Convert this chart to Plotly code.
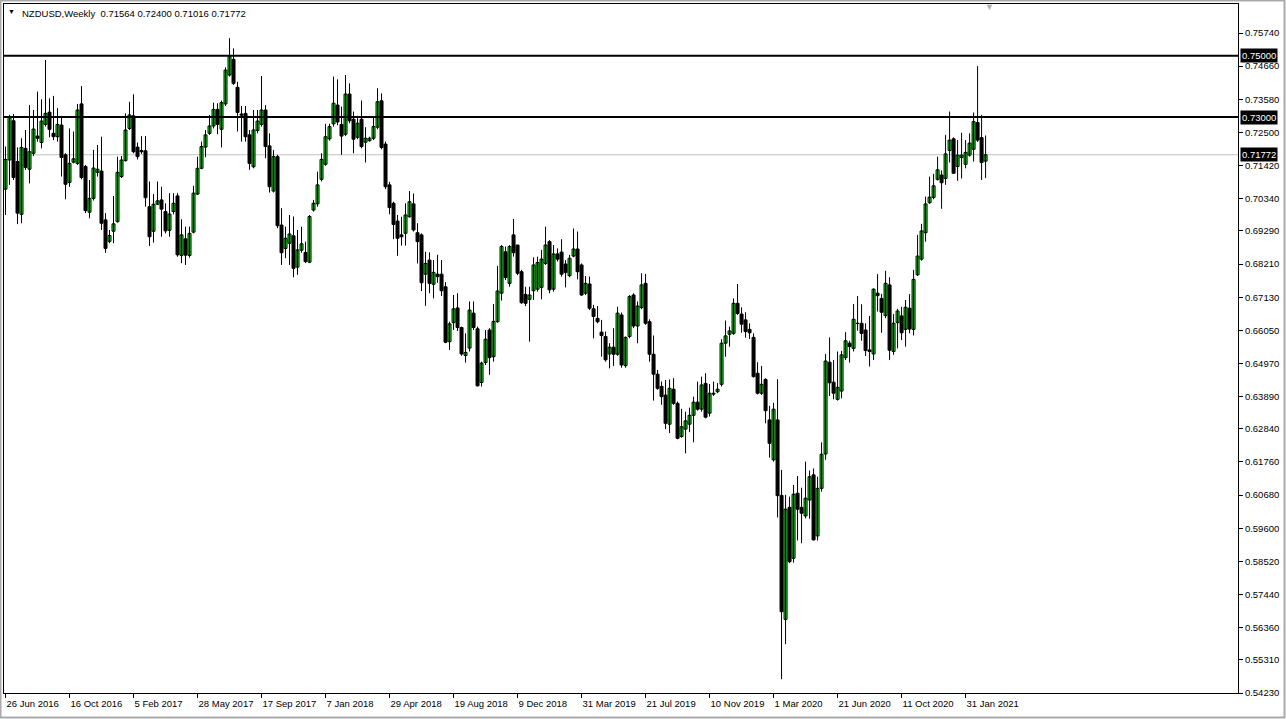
import pandas as pd
import plotly.graph_objects as go

# ---------------- data ----------------
start_week = "2016-06-26"

opens = [0.7065,0.7160,0.7288,0.7155,0.6983,0.7198,0.7130,0.7182,0.7238,0.7217,
0.7276,0.7316,0.7247,0.7236,0.7274,0.7177,0.7087,0.7153,0.7149,0.7343,
0.7139,0.6990,0.7035,0.7120,0.7124,0.6965,0.6895,0.6928,0.6959,0.7106,
0.7158,0.7263,0.7304,0.7202,0.7191,0.7190,0.7008,0.6928,0.7016,0.7030,
0.6992,0.6931,0.6992,0.7043,0.6849,0.6903,0.6849,0.6925,0.7049,0.7133,
0.7202,0.7247,0.7271,0.7325,0.7260,0.7343,0.7437,0.7488,0.7397,0.7310,
0.7312,0.7242,0.7138,0.7256,0.7276,0.7323,0.7206,0.7059,0.7171,0.6948,
0.6872,0.6889,0.6913,0.6811,0.6866,0.6859,0.6827,0.6997,0.7017,0.7097,
0.7146,0.7229,0.7278,0.7339,0.7276,0.7244,0.7375,0.7293,0.7234,0.7293,
0.7218,0.7223,0.7231,0.7267,0.7353,0.7212,0.7079,0.7019,0.6961,0.6916,
0.6921,0.6975,0.7017,0.6923,0.6916,0.6788,0.6834,0.6755,0.6788,0.6788,
0.6747,0.6568,0.6630,0.6678,0.6614,0.6523,0.6547,0.6661,0.6610,0.6435,
0.6500,0.6606,0.6519,0.6633,0.6726,0.6861,0.6758,0.6916,0.6883,0.6796,
0.6722,0.6706,0.6734,0.6739,0.6745,0.6823,0.6894,0.6739,0.6854,0.6860,
0.6821,0.6783,0.6847,0.6870,0.6818,0.6726,0.6756,0.6675,0.6644,0.6599,
0.6585,0.6528,0.6550,0.6527,0.6655,0.6490,0.6585,0.6720,0.6619,0.6679,
0.6758,0.6633,0.6527,0.6462,0.6422,0.6394,0.6299,0.6413,0.6367,0.6259,
0.6283,0.6299,0.6328,0.6371,0.6348,0.6432,0.6335,0.6400,0.6405,0.6429,
0.6563,0.6592,0.6595,0.6693,0.6658,0.6639,0.6608,0.6582,0.6465,0.6400,
0.6445,0.6313,0.6183,0.6313,0.6067,0.5663,0.6028,0.5862,0.6074,0.6028,
0.6000,0.6052,0.6134,0.5935,0.6090,0.6202,0.6501,0.6436,0.6380,0.6407,
0.6516,0.6563,0.6546,0.6628,0.6628,0.6606,0.6541,0.6528,0.6726,0.6709,
0.6653,0.6753,0.6536,0.6630,0.6652,0.6608,0.6677,0.6608,0.6786,0.6837,
0.6923,0.7021,0.7038,0.7097,0.7111,0.7100,0.7191,0.7229,0.7139,0.7168,
0.7146,0.7176,0.7195,0.7282,0.7233,0.71564]

highs = [0.7204,0.7307,0.7310,0.7201,0.7231,0.7258,0.7339,0.7323,0.7383,0.7358,
0.7486,0.7361,0.7369,0.7329,0.7304,0.7182,0.7263,0.7253,0.7343,0.7401,
0.7144,0.7095,0.7193,0.7209,0.7236,0.6987,0.6932,0.7043,0.7171,0.7173,
0.7312,0.7350,0.7374,0.7217,0.7238,0.7238,0.7090,0.7049,0.7090,0.7073,
0.7019,0.7052,0.7052,0.7052,0.6967,0.6943,0.6943,0.7076,0.7171,0.7220,
0.7258,0.7307,0.7347,0.7345,0.7354,0.7462,0.7557,0.7524,0.7415,0.7336,
0.7336,0.7258,0.7323,0.7323,0.7434,0.7339,0.7247,0.7193,0.7177,0.7003,
0.6943,0.6981,0.6976,0.6932,0.6943,0.6894,0.6981,0.7030,0.7122,0.7182,
0.7278,0.7278,0.7432,0.7423,0.7334,0.7437,0.7410,0.7318,0.7304,0.7354,
0.7267,0.7236,0.7301,0.7394,0.7377,0.7220,0.7089,0.7024,0.6981,0.6975,
0.7019,0.7059,0.7051,0.6954,0.6921,0.6861,0.6859,0.6834,0.6851,0.6834,
0.6762,0.6633,0.6720,0.6726,0.6617,0.6595,0.6699,0.6699,0.6617,0.6503,
0.6606,0.6612,0.6691,0.6815,0.6883,0.6878,0.6883,0.6968,0.6883,0.6802,
0.6747,0.6747,0.6843,0.6845,0.6867,0.6943,0.6899,0.6883,0.6872,0.6902,
0.6834,0.6851,0.6937,0.6927,0.6823,0.6782,0.6780,0.6688,0.6684,0.6639,
0.6601,0.6563,0.6612,0.6682,0.6663,0.6585,0.6720,0.6726,0.6699,0.6791,
0.6789,0.6641,0.6588,0.6476,0.6438,0.6443,0.6445,0.6449,0.6373,0.6349,
0.6340,0.6353,0.6389,0.6438,0.6454,0.6465,0.6430,0.6438,0.6433,0.6576,
0.6637,0.6617,0.6709,0.6756,0.6680,0.6664,0.6628,0.6595,0.6501,0.6489,
0.6449,0.6359,0.6369,0.6446,0.6150,0.6069,0.6063,0.6101,0.6130,0.6092,
0.6177,0.6148,0.6155,0.6128,0.6240,0.6528,0.6582,0.6508,0.6536,0.6538,
0.6599,0.6571,0.6691,0.6717,0.6690,0.6628,0.6652,0.6742,0.6788,0.6724,
0.6799,0.6778,0.6658,0.6675,0.6682,0.6704,0.6723,0.6802,0.6916,0.6952,
0.7041,0.7106,0.7115,0.7171,0.7126,0.7242,0.7318,0.7234,0.7225,0.7249,
0.7225,0.7247,0.7315,0.7466,0.7307,0.72400]

lows = [0.6981,0.7079,0.7095,0.6951,0.6954,0.7128,0.7084,0.7173,0.7220,0.7198,
0.7269,0.7234,0.7225,0.7220,0.7106,0.7032,0.7073,0.7149,0.7144,0.7097,
0.6987,0.6970,0.7028,0.7106,0.6932,0.6858,0.6889,0.6889,0.6956,0.7101,
0.7155,0.7258,0.7182,0.7162,0.7180,0.7008,0.6880,0.6891,0.7014,0.6910,
0.6921,0.6910,0.6983,0.6845,0.6824,0.6818,0.6842,0.6921,0.7046,0.7130,
0.7169,0.7242,0.7263,0.7244,0.7201,0.7336,0.7432,0.7405,0.7253,0.7220,
0.7220,0.7128,0.7133,0.7247,0.7269,0.7166,0.7054,0.7054,0.6938,0.6818,
0.6840,0.6818,0.6778,0.6786,0.6858,0.6824,0.6824,0.6992,0.7008,0.7090,
0.7141,0.7223,0.7269,0.7274,0.7177,0.7238,0.7280,0.7182,0.7228,0.7198,
0.7152,0.7220,0.7225,0.7260,0.7195,0.7065,0.6983,0.6902,0.6848,0.6881,
0.6881,0.6972,0.6927,0.6823,0.6733,0.6685,0.6726,0.6709,0.6760,0.6717,
0.6563,0.6541,0.6606,0.6603,0.6522,0.6500,0.6536,0.6606,0.6422,0.6422,
0.6492,0.6460,0.6503,0.6630,0.6702,0.6769,0.6747,0.6845,0.6785,0.6691,
0.6684,0.6568,0.6704,0.6731,0.6706,0.6818,0.6726,0.6731,0.6829,0.6780,
0.6745,0.6778,0.6843,0.6771,0.6717,0.6720,0.6671,0.6579,0.6628,0.6519,
0.6503,0.6481,0.6489,0.6522,0.6483,0.6483,0.6579,0.6612,0.6563,0.6674,
0.6623,0.6503,0.6376,0.6411,0.6362,0.6283,0.6270,0.6362,0.6250,0.6255,
0.6204,0.6273,0.6240,0.6343,0.6340,0.6318,0.6324,0.6391,0.6400,0.6422,
0.6519,0.6552,0.6590,0.6655,0.6597,0.6581,0.6577,0.6451,0.6396,0.6394,
0.6302,0.6190,0.6177,0.5995,0.5468,0.5582,0.5846,0.5848,0.5920,0.5911,
0.5992,0.5991,0.5920,0.5920,0.6079,0.6183,0.6391,0.6380,0.6376,0.6383,
0.6508,0.6500,0.6536,0.6604,0.6571,0.6521,0.6487,0.6508,0.6666,0.6597,
0.6645,0.6508,0.6525,0.6546,0.6573,0.6552,0.6595,0.6588,0.6782,0.6832,
0.6894,0.7017,0.7032,0.7093,0.7001,0.7079,0.7152,0.7115,0.7092,0.7100,
0.7133,0.7171,0.7155,0.7219,0.7095,0.71016]

closes = [0.7162,0.7299,0.7103,0.6987,0.7201,0.7136,0.7187,0.7261,0.7231,0.7287,
0.7312,0.7260,0.7236,0.7276,0.7168,0.7081,0.7149,0.7164,0.7323,0.7103,
0.6995,0.7035,0.7134,0.7130,0.6954,0.6872,0.6914,0.6952,0.7120,0.7160,
0.7258,0.7307,0.7187,0.7171,0.7187,0.7037,0.6910,0.7016,0.7027,0.7000,
0.6929,0.6984,0.7019,0.6851,0.6916,0.6850,0.6921,0.7052,0.7133,0.7204,
0.7242,0.7271,0.7325,0.7276,0.7347,0.7453,0.7497,0.7410,0.7315,0.7306,
0.7236,0.7149,0.7258,0.7287,0.7323,0.7204,0.7073,0.7171,0.6946,0.6858,
0.6905,0.6919,0.6807,0.6867,0.6887,0.6829,0.6976,0.7019,0.7079,0.7162,
0.7236,0.7269,0.7345,0.7284,0.7238,0.7375,0.7288,0.7228,0.7280,0.7204,
0.7231,0.7231,0.7269,0.7350,0.7201,0.7073,0.7005,0.6950,0.6905,0.6910,
0.6981,0.7024,0.6932,0.6894,0.6760,0.6823,0.6758,0.6794,0.6780,0.6734,
0.6566,0.6626,0.6675,0.6614,0.6528,0.6533,0.6671,0.6614,0.6424,0.6498,
0.6576,0.6516,0.6634,0.6733,0.6878,0.6777,0.6878,0.6858,0.6791,0.6695,
0.6693,0.6720,0.6818,0.6826,0.6837,0.6883,0.6737,0.6854,0.6837,0.6788,
0.6793,0.6840,0.6870,0.6796,0.6720,0.6758,0.6677,0.6650,0.6633,0.6588,
0.6509,0.6550,0.6527,0.6661,0.6492,0.6582,0.6715,0.6619,0.6684,0.6753,
0.6628,0.6527,0.6462,0.6416,0.6389,0.6302,0.6416,0.6367,0.6253,0.6291,
0.6310,0.6328,0.6371,0.6348,0.6427,0.6322,0.6400,0.6397,0.6413,0.6563,
0.6587,0.6603,0.6693,0.6660,0.6625,0.6601,0.6597,0.6454,0.6400,0.6429,
0.6343,0.6237,0.6348,0.6066,0.5688,0.6022,0.5851,0.6071,0.6022,0.6009,
0.6058,0.6128,0.5922,0.6090,0.6201,0.6505,0.6434,0.6400,0.6419,0.6525,
0.6571,0.6552,0.6641,0.6627,0.6595,0.6539,0.6536,0.6739,0.6718,0.6664,
0.6758,0.6540,0.6628,0.6668,0.6597,0.6680,0.6609,0.6771,0.6847,0.6929,
0.7017,0.7039,0.7076,0.7128,0.7086,0.7180,0.7225,0.7117,0.7176,0.7176,
0.7185,0.7215,0.7285,0.7225,0.7152,0.71772]

date_labels = ["26 Jun 2016", "16 Oct 2016", "5 Feb 2017", "28 May 2017",
               "17 Sep 2017", "7 Jan 2018", "29 Apr 2018", "19 Aug 2018",
               "9 Dec 2018", "31 Mar 2019", "21 Jul 2019", "10 Nov 2019",
               "1 Mar 2020", "21 Jun 2020", "11 Oct 2020", "31 Jan 2021"]

price_ticks = [0.75740, 0.74660, 0.73580, 0.72500, 0.71420, 0.70340, 0.69290,
               0.68210, 0.67130, 0.66050, 0.64970, 0.63890, 0.62840, 0.61760,
               0.60680, 0.59600, 0.58520, 0.57440, 0.56360, 0.55310, 0.54230]

level_lines = [0.75000, 0.73000]
last_price = 0.71772
header = "NZDUSD,Weekly  0.71564 0.72400 0.71016 0.71772"

# ---------------- figure ----------------
W, H = 1286, 719
ML, MR, MT, MB = 4, 48, 4, 26
PW, PH = W - ML - MR, H - MT - MB

BULL = "#30ee30"
BEAR = "#000000"

dates = list(pd.date_range(start_week, periods=len(opens), freq="7D"))
t0 = pd.Timestamp(start_week)
wk = pd.Timedelta(days=7)
x_range = [t0 - 0.375 * wk, t0 + 308.1 * wk]
y_range = [0.5423, 0.76685]
tick_dates = [t0 + 16 * k * wk for k in range(len(date_labels))]
FONT = "Liberation Sans"

# wick path (x, low, high, gap) built from the arrays
wick_x, wick_y = [], []
for d, lo, hi in zip(dates, lows, highs):
    wick_x += [d, d, None]
    wick_y += [lo, hi, None]

body_base = [min(o, c) for o, c in zip(opens, closes)]
body_len = [max(abs(c - o), 0.00004) for o, c in zip(opens, closes)]
body_col = [BULL if c >= o else BEAR for o, c in zip(opens, closes)]

fig = go.Figure()
fig.add_trace(go.Scatter(
    x=wick_x, y=wick_y, mode="lines",
    line=dict(color="#000000", width=1), hoverinfo="skip", showlegend=False))
fig.add_trace(go.Bar(
    x=dates, y=body_len, base=body_base,
    width=0.75 * wk.total_seconds() * 1000,
    marker=dict(color=body_col, line=dict(color="#000000", width=1)),
    hoverinfo="skip", showlegend=False))


def px_x(px):
    return (px - ML) / PW


def px_y(py):
    return 1 - (py - MT) / PH


shapes = [dict(type="line", xref="paper", yref="y", x0=0, x1=1,
               y0=last_price, y1=last_price,
               line=dict(color="#c0c0c0", width=1), layer="below")]
for lv in level_lines:
    shapes.append(dict(type="line", xref="paper", yref="y", x0=0, x1=1,
                       y0=lv, y1=lv, line=dict(color="#000000", width=2),
                       layer="above"))
shapes.append(dict(type="rect", xref="paper", yref="paper",
                   x0=px_x(0.5), x1=px_x(1284.5), y0=px_y(717.5), y1=px_y(0.5),
                   line=dict(color="#a9a9a9", width=2), layer="below"))

annotations = []
for val in level_lines + [last_price]:
    annotations.append(dict(
        xref="paper", yref="y", x=1, y=val, xanchor="left", yanchor="middle",
        xshift=2, text=f"{val:.5f}", showarrow=False,
        font=dict(family=FONT, size=9.5, color="#ffffff"),
        bgcolor="#000000", borderpad=1))
annotations.append(dict(
    xref="paper", yref="paper", x=px_x(20), y=px_y(6), xanchor="left",
    yanchor="top", text=header, showarrow=False,
    font=dict(family=FONT, size=9.5, color="#000000")))
annotations.append(dict(
    xref="paper", yref="paper", x=px_x(11), y=px_y(12), xanchor="center",
    yanchor="middle", text="▼", showarrow=False,
    font=dict(family=FONT, size=7, color="#000000")))
annotations.append(dict(
    xref="paper", yref="paper", x=px_x(990), y=px_y(7), xanchor="center",
    yanchor="middle", text="▼", showarrow=False,
    font=dict(family=FONT, size=9, color="#b0b0b0")))

fig.update_layout(
    width=W, height=H,
    margin=dict(l=ML, r=MR, t=MT, b=MB, pad=0, autoexpand=False),
    paper_bgcolor="#ffffff", plot_bgcolor="#ffffff",
    shapes=shapes, annotations=annotations,
    bargap=0, barmode="overlay",
    xaxis=dict(
        type="date", range=x_range, automargin=False,
        showgrid=False, zeroline=False,
        showline=True, linecolor="#000000", linewidth=1, mirror=True,
        ticks="outside", ticklen=4, tickcolor="#000000",
        tickvals=tick_dates, ticktext=date_labels,
        ticklabelposition="outside right", ticklabelstandoff=2,
        tickfont=dict(family=FONT, size=9.5, color="#000000"),
    ),
    yaxis=dict(
        side="right", range=y_range, automargin=False,
        showgrid=False, zeroline=False,
        showline=True, linecolor="#000000", linewidth=1, mirror=True,
        ticks="outside", ticklen=4, tickcolor="#000000",
        tickvals=price_ticks, ticktext=[f"{v:.5f}" for v in price_ticks],
        tickfont=dict(family=FONT, size=9.5, color="#000000"),
    ),
)

fig.write_html(
    "out.html",
    config={"displayModeBar": False, "staticPlot": True},
    post_script="document.body.style.margin='0';document.body.style.padding='0';"
                "document.body.style.overflow='hidden';",
)
